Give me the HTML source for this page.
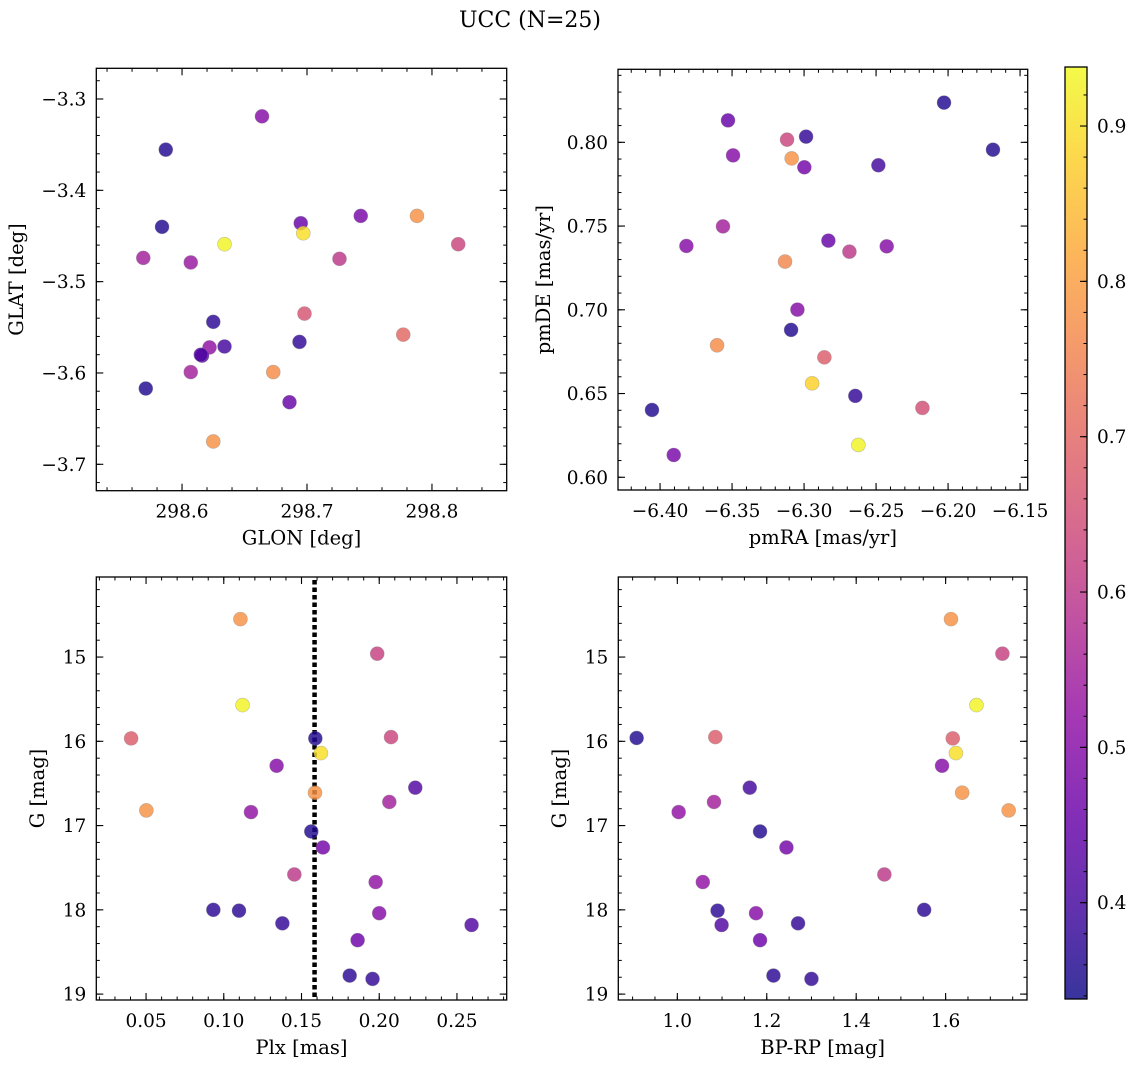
<!DOCTYPE html>
<html><head><meta charset="utf-8">
<style>
html,body{margin:0;padding:0;background:#fff;}
svg{display:block;font-family:"DejaVu Serif","Liberation Serif",serif;}
</style></head>
<body>
<svg id="fig" width="1136" height="1067" viewBox="0 0 1136 1067" xmlns="http://www.w3.org/2000/svg">
<text x="530" y="27" font-size="22" text-anchor="middle">UCC (N=25)</text>
</svg>
<script>
// ---- Panel 1: GLON vs GLAT ----
const glon = [298.664,298.587,298.584,298.634,298.569,298.607,298.695,298.697,298.743,298.788,298.821,298.726,298.698,298.777,298.625,298.694,298.634,298.622,298.616,298.615,298.607,298.673,298.571,298.686,298.625];
const glat = [-3.319,-3.3555,-3.440,-3.459,-3.474,-3.479,-3.436,-3.447,-3.428,-3.428,-3.459,-3.475,-3.535,-3.558,-3.544,-3.566,-3.571,-3.572,-3.581,-3.580,-3.599,-3.599,-3.617,-3.632,-3.675];
const c1 = [0.50,0.36,0.36,0.93,0.55,0.53,0.45,0.90,0.48,0.78,0.63,0.60,0.66,0.70,0.37,0.38,0.40,0.52,0.42,0.42,0.55,0.77,0.36,0.45,0.78];
// ---- Panel 2: pmRA vs pmDE ----
const pmra = [-6.2028,-6.1688,-6.3528,-6.2986,-6.3118,-6.3493,-6.3086,-6.2998,-6.2484,-6.3563,-6.3817,-6.2831,-6.2685,-6.2426,-6.3132,-6.3046,-6.3090,-6.3604,-6.2859,-6.2944,-6.2644,-6.4056,-6.2178,-6.3905,-6.2623];
const pmde = [0.8237,0.7956,0.8131,0.8034,0.8016,0.7922,0.7904,0.7851,0.7863,0.7498,0.7381,0.7413,0.7347,0.7379,0.7288,0.7001,0.6880,0.6788,0.6716,0.6561,0.6486,0.6402,0.6414,0.6133,0.6193];
const c2 = [0.36,0.36,0.45,0.38,0.63,0.50,0.78,0.47,0.40,0.55,0.50,0.45,0.60,0.50,0.76,0.50,0.36,0.77,0.68,0.88,0.38,0.36,0.65,0.48,0.93];
// ---- Panel 3: Plx vs G ----
const plx = [0.1107,0.1987,0.1121,0.0404,0.1589,0.1625,0.2076,0.1340,0.2232,0.0502,0.1587,0.1175,0.2065,0.1563,0.1638,0.1454,0.1977,0.0933,0.1098,0.2000,0.1377,0.2594,0.1861,0.1810,0.1957];
const gmag3 = [14.55,14.96,15.57,15.965,15.965,16.14,15.95,16.29,16.55,16.82,16.61,16.84,16.72,17.07,17.26,17.58,17.67,18.00,18.01,18.04,18.16,18.18,18.36,18.78,18.82];
const c3 = [0.78,0.62,0.93,0.68,0.36,0.90,0.63,0.50,0.42,0.78,0.78,0.52,0.55,0.36,0.47,0.60,0.52,0.37,0.37,0.50,0.38,0.42,0.46,0.37,0.38];
const plxLine = [0.1584];
// ---- Panel 4: BP-RP vs G ----
const bprp = [1.612,1.727,1.669,0.909,1.085,1.616,1.623,1.592,1.162,1.637,1.741,1.003,1.082,1.185,1.244,1.463,1.057,1.552,1.090,1.176,1.270,1.099,1.185,1.215,1.300];
const gmag4 = [14.55,14.96,15.57,15.96,15.95,15.965,16.14,16.29,16.55,16.61,16.82,16.84,16.72,17.07,17.26,17.58,17.67,18.00,18.01,18.04,18.16,18.18,18.36,18.78,18.82];
const c4 = [0.78,0.62,0.93,0.36,0.68,0.68,0.90,0.50,0.40,0.78,0.78,0.52,0.55,0.36,0.47,0.60,0.52,0.37,0.37,0.50,0.38,0.42,0.46,0.37,0.38];
// ---- Colorbar ----
const cbMin = 0.338, cbMax = 0.938;
const cbTicks = [0.4,0.5,0.6,0.7,0.8,0.9];

const NS = "http://www.w3.org/2000/svg";
const svg = document.getElementById('fig');
const plasma = [[13,8,135],[65,4,157],[106,0,168],[143,13,164],[177,42,144],[204,71,120],[225,100,98],[242,132,75],[252,166,54],[252,206,37],[240,249,33]];
function cmap(v){
  let t=(v-cbMin)/(cbMax-cbMin); t=Math.max(0,Math.min(1,t));
  const p=t*10, i=Math.min(9,Math.floor(p)), f=p-i;
  const a=plasma[i], b=plasma[i+1];
  return 'rgb('+[0,1,2].map(k=>Math.round(a[k]+(b[k]-a[k])*f)).join(',')+')';
}
function el(tag, attrs, parent){
  const e=document.createElementNS(NS,tag);
  for(const k in attrs) e.setAttribute(k,attrs[k]);
  (parent||svg).appendChild(e); return e;
}
function fmt(v,d){ const s=Math.abs(v).toFixed(d); return (v<0?'\u2212':'')+s; }
const TFS=18.5, LFS=19.5;

function panel(o){
  const g=el('g',{});
  
  
  const sx=v=>o.L+(v-o.x0)/(o.x1-o.x0)*(o.R-o.L);
  const sy=v=>o.T+(v-o.y0)/(o.y1-o.y0)*(o.B-o.T);
  const eps=1e-9;
  function ticks(a,b,step){const r=[];const lo=Math.min(a,b),hi=Math.max(a,b);for(let v=Math.ceil(lo/step-eps)*step;v<=hi+eps;v+=step)r.push(+v.toFixed(6));return r;}
  ticks(o.x0,o.x1,o.xminor).forEach(v=>{const x=sx(v);
    el('line',{x1:x,x2:x,y1:o.B,y2:o.B-3.5,stroke:'#000','stroke-width':1},g);
    el('line',{x1:x,x2:x,y1:o.T,y2:o.T+3.5,stroke:'#000','stroke-width':1},g);});
  ticks(o.y0,o.y1,o.yminor).forEach(v=>{const y=sy(v);
    el('line',{x1:o.L,x2:o.L+3.5,y1:y,y2:y,stroke:'#000','stroke-width':1},g);
    el('line',{x1:o.R,x2:o.R-3.5,y1:y,y2:y,stroke:'#000','stroke-width':1},g);});
  o.xticks.forEach(v=>{const x=sx(v);
    el('line',{x1:x,x2:x,y1:o.B,y2:o.B-7,stroke:'#000','stroke-width':1.1},g);
    el('line',{x1:x,x2:x,y1:o.T,y2:o.T+7,stroke:'#000','stroke-width':1.1},g);
    const t=el('text',{x:x,y:o.B+27,'font-size':TFS,'text-anchor':'middle'},g);
    t.textContent=fmt(v,o.xd);
    
    });
  o.yticks.forEach(v=>{const y=sy(v);
    el('line',{x1:o.L,x2:o.L+7,y1:y,y2:y,stroke:'#000','stroke-width':1.1},g);
    el('line',{x1:o.R,x2:o.R-7,y1:y,y2:y,stroke:'#000','stroke-width':1.1},g);
    const t=el('text',{x:o.L-10,y:y+6.5,'font-size':TFS,'text-anchor':'end'},g);
    t.textContent=fmt(v,o.yd);
    
    });
  if(o.vline){const x=sx(o.vline[0]);
    const ln=el('line',{x1:x,x2:x,y1:o.T+3,y2:o.B,stroke:'#000','stroke-width':4.5,'stroke-dasharray':'4.5 3'},g);
    
    }
  for(let i=0;i<o.xs.length;i++){
    const c=el('circle',{cx:sx(o.xs[i]),cy:sy(o.ys[i]),r:7,fill:cmap(o.cs[i]),'fill-opacity':0.82,stroke:'#888','stroke-opacity':0.5,'stroke-width':0.6},g);
    
    
  }
  el('rect',{x:o.L,y:o.T,width:o.R-o.L,height:o.B-o.T,fill:'none',stroke:'#000','stroke-width':1.3},g);
  const xl=el('text',{x:(o.L+o.R)/2,y:o.B+54,'font-size':LFS,'text-anchor':'middle'},g);
  xl.textContent=o.xlabel;
  
  
  const yx=o.ylx, yy=(o.T+o.B)/2;
  const yl=el('text',{x:yx,y:yy,'font-size':LFS,'text-anchor':'middle',transform:'rotate(-90 '+yx+' '+yy+')'},g);
  yl.textContent=o.ylabel;
  
  
}

panel({name:'glon-glat-panel',L:96.3,R:506.7,T:68.3,B:490.7,x0:298.5314,x1:298.8598,y0:-3.2664,y1:-3.7289,
  xticks:[298.6,298.7,298.8],yticks:[-3.3,-3.4,-3.5,-3.6,-3.7],xminor:0.02,yminor:0.02,xd:1,yd:1,
  xs:glon,ys:glat,cs:c1,xlabel:'GLON [deg]',ylabel:'GLAT [deg]',ylx:23});
panel({name:'proper-motion-panel',L:618,R:1027.7,T:69.3,B:490,x0:-6.4292,x1:-6.1447,y0:0.8436,y1:0.5924,
  xticks:[-6.40,-6.35,-6.30,-6.25,-6.20,-6.15],yticks:[0.60,0.65,0.70,0.75,0.80],xminor:0.01,yminor:0.01,xd:2,yd:2,
  xs:pmra,ys:pmde,cs:c2,xlabel:'pmRA [mas/yr]',ylabel:'pmDE [mas/yr]',ylx:550});
panel({name:'plx-g-panel',L:96.3,R:506.7,T:577,B:1000,x0:0.018,x1:0.282,y0:14.05,y1:19.07,
  xticks:[0.05,0.10,0.15,0.20,0.25],yticks:[15,16,17,18,19],xminor:0.01,yminor:0.2,xd:2,yd:0,
  xs:plx,ys:gmag3,cs:c3,vline:plxLine,xlabel:'Plx [mas]',ylabel:'G [mag]',ylx:44});
panel({name:'cmd-panel',L:618.3,R:1027,T:577,B:1000,x0:0.868,x1:1.782,y0:14.05,y1:19.07,
  xticks:[1.0,1.2,1.4,1.6],yticks:[15,16,17,18,19],xminor:0.05,yminor:0.2,xd:1,yd:0,
  xs:bprp,ys:gmag4,cs:c4,xlabel:'BP-RP [mag]',ylabel:'G [mag]',ylx:566});

(function(){
  const L=1065,R=1087,T=67,B=999;
  const g=el('g',{});
  
  
  const defs=el('defs',{},g);
  const lg=el('linearGradient',{id:'cbg',x1:0,y1:1,x2:0,y2:0},defs);
  for(let k=0;k<=10;k++){el('stop',{offset:(k/10),'stop-color':cmap(cbMin+(cbMax-cbMin)*k/10),'stop-opacity':0.82},lg);}
  el('rect',{x:L,y:T,width:R-L,height:B-T,fill:'url(#cbg)'},g);
  const sy=v=>B-(v-cbMin)/(cbMax-cbMin)*(B-T);
  for(let v=0.34;v<=cbMax+1e-9;v+=0.02){const y=sy(v);el('line',{x1:R,x2:R-3.5,y1:y,y2:y,stroke:'#000','stroke-width':1},g);}
  cbTicks.forEach(v=>{const y=sy(v);
    el('line',{x1:R,x2:R-7,y1:y,y2:y,stroke:'#000','stroke-width':1.1},g);
    const t=el('text',{x:R+10,y:y+6.5,'font-size':TFS},g);
    t.textContent=v.toFixed(1);
    
    });
  el('rect',{x:L,y:T,width:R-L,height:B-T,fill:'none',stroke:'#000','stroke-width':1.3},g);
})();
</script>
</body></html>
